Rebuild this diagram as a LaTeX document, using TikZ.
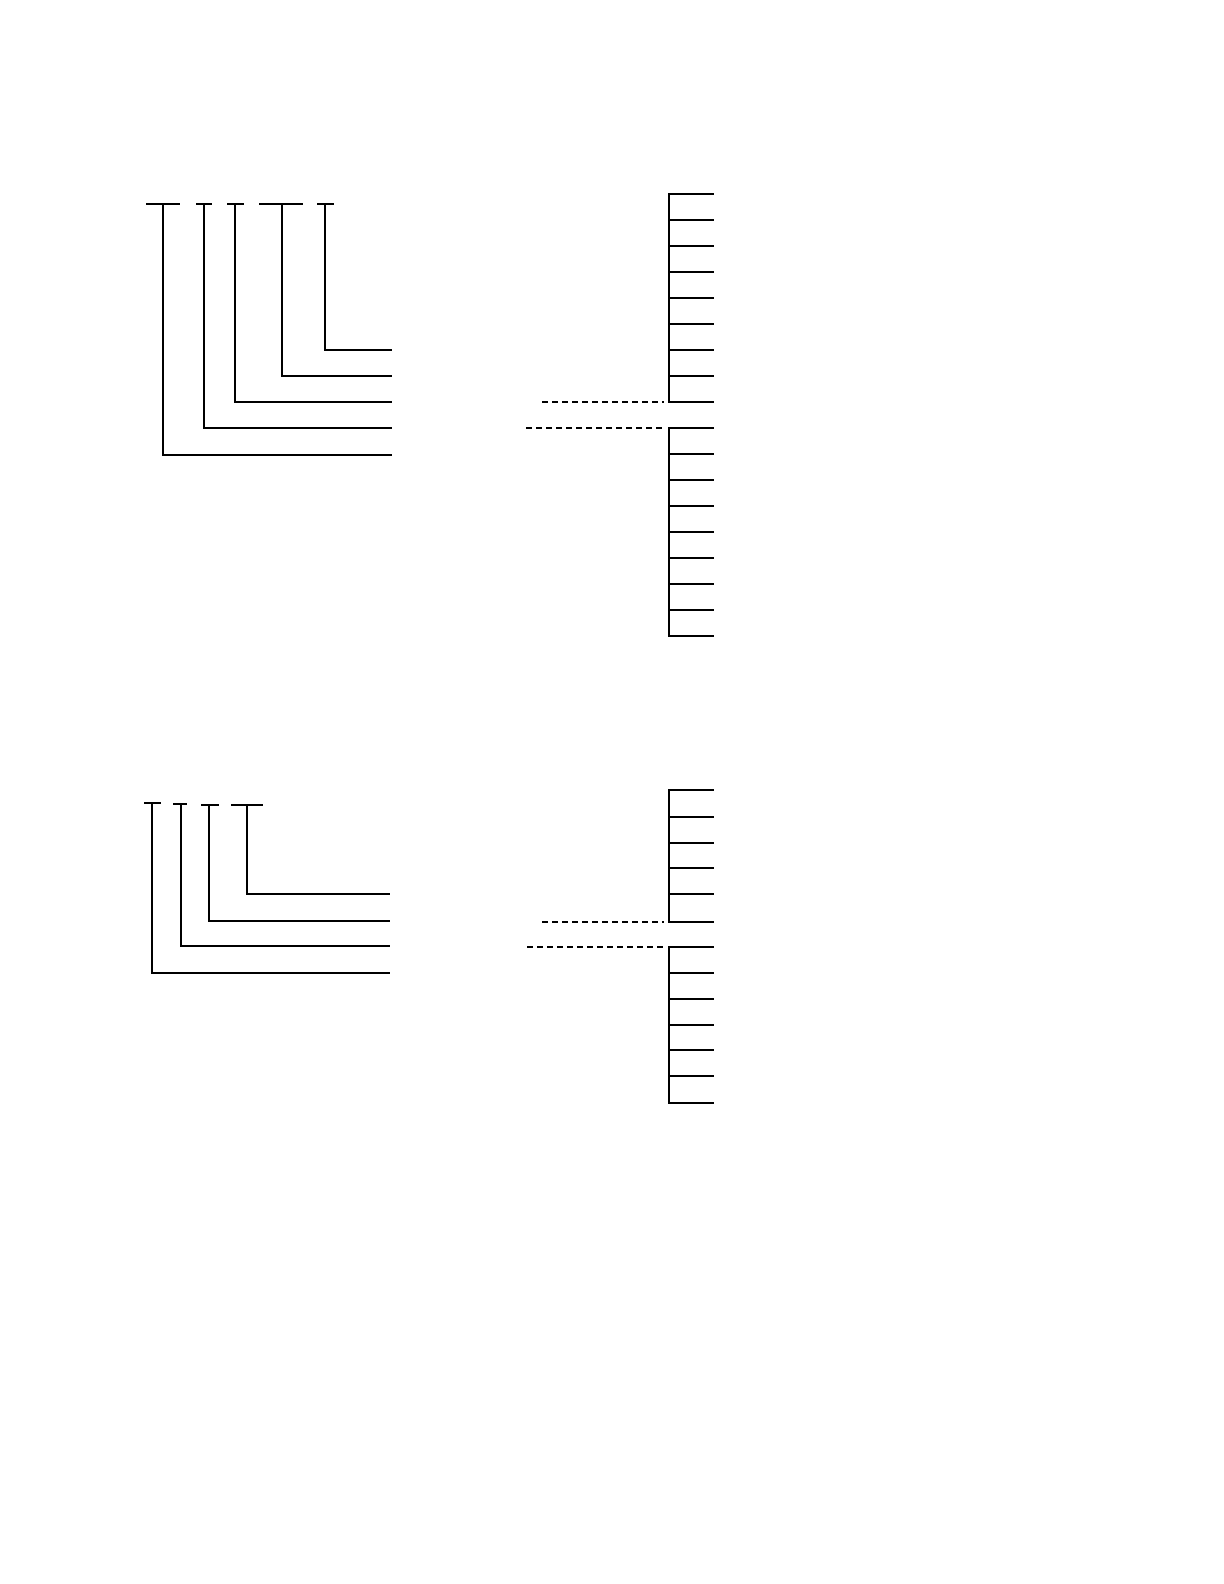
\documentclass[tikz,border=0pt]{standalone}
\begin{document}
\begin{tikzpicture}[x=0.5pt,y=-0.5pt,
  ln/.style={line width=1pt,line cap=rect},
  dsh/.style={line width=1pt,dash pattern=on 3pt off 2pt}]
\useasboundingbox (0,0) rectangle (1224,1584);
% ---- top left bracket group
\draw[ln] (147,204) -- (179,204);
\draw[ln] (163,204) -- (163,455) -- (391,455);
\draw[ln] (197,204) -- (211,204);
\draw[ln] (204,204) -- (204,428) -- (391,428);
\draw[ln] (228,204) -- (243,204);
\draw[ln] (235,204) -- (235,402) -- (391,402);
\draw[ln] (260,204) -- (302,204);
\draw[ln] (282,204) -- (282,376) -- (391,376);
\draw[ln] (318,204) -- (333,204);
\draw[ln] (325,204) -- (325,350) -- (391,350);
% ---- top right ladder
\draw[ln] (669,194) -- (669,402);
\foreach \y in {194,220,246,272,298,324,350,376,402} \draw[ln] (669,\y) -- (713,\y);
\draw[ln] (669,428) -- (669,636);
\foreach \y in {428,454,480,506,532,558,584,610,636} \draw[ln] (669,\y) -- (713,\y);
\draw[dsh] (542,402) -- (664,402);
\draw[dsh] (526,428) -- (664,428);
% ---- bottom left bracket group
\draw[ln] (145,803) -- (160,803);
\draw[ln] (152,803) -- (152,973) -- (389,973);
\draw[ln] (174,804) -- (186,804);
\draw[ln] (181,804) -- (181,946) -- (389,946);
\draw[ln] (202,805) -- (218,805);
\draw[ln] (209,805) -- (209,921) -- (389,921);
\draw[ln] (232,805) -- (262,805);
\draw[ln] (247,805) -- (247,894) -- (389,894);
% ---- bottom right ladder
\draw[ln] (669,790) -- (669,922);
\foreach \y in {790,817,843,868,894,922} \draw[ln] (669,\y) -- (713,\y);
\draw[ln] (669,947) -- (669,1103);
\foreach \y in {947,973,999,1025,1050,1076,1103} \draw[ln] (669,\y) -- (713,\y);
\draw[dsh] (542,922) -- (664,922);
\draw[dsh] (527,947) -- (664,947);
\end{tikzpicture}
\end{document}
